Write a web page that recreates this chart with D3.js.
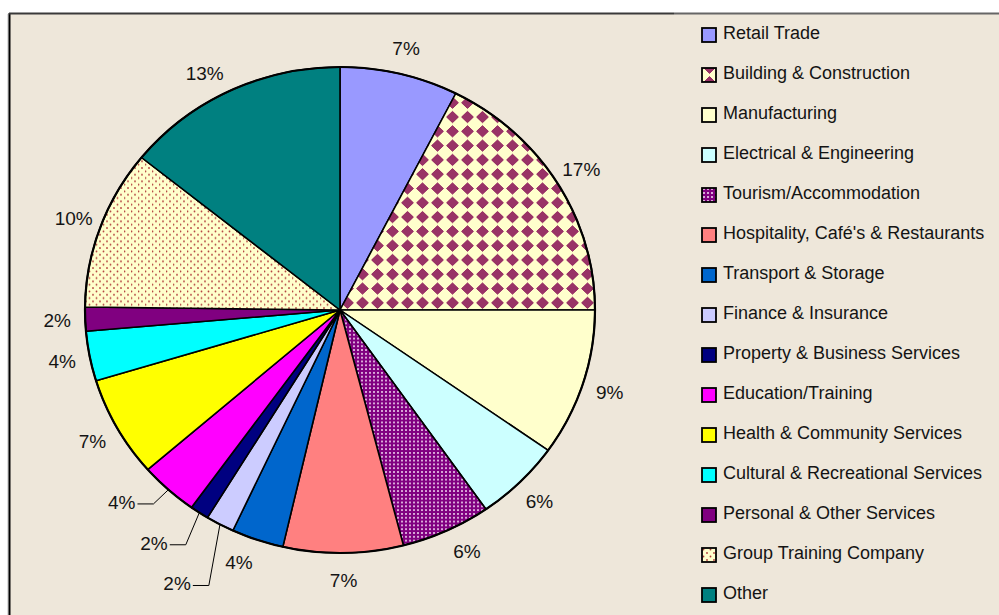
<!DOCTYPE html>
<html>
<head>
<meta charset="utf-8">
<script src="https://cdn.jsdelivr.net/npm/d3@7"></script>
<style>
body { margin: 0; background: #fff; }
text { font-family: Arial, "Liberation Sans", sans-serif; fill: #141414; }
</style>
</head>
<body>
<svg id="chart" width="999" height="615"></svg>
<script>
// données (parts en %)
const secteurs = ['Retail Trade', 'Building & Construction', 'Manufacturing', 'Electrical & Engineering',
    'Tourism/Accommodation', "Hospitality, Café's & Restaurants", 'Transport & Storage', 'Finance & Insurance',
    'Property & Business Services', 'Education/Training', 'Health & Community Services',
    'Cultural & Recreational Services', 'Personal & Other Services', 'Group Training Company', 'Other'];
const parts = [7.5, 17.5, 9.8, 5.5, 5.7, 7.6, 3.3, 1.8, 1.2, 3.7, 6.7, 3.3, 1.6, 10.6, 14.2];
const etiquettes = ['7%', '17%', '9%', '6%', '6%', '7%', '4%', '2%', '2%', '4%', '7%', '4%', '2%', '10%', '13%'];

const remplissages = ['#9999FF', 'url(#pDiamant)', '#FFFFCC', '#CCFFFF', 'url(#pTourisme)', '#FF8080', '#0066CC',
    '#CCCCFF', '#000080', '#FF00FF', '#FFFF00', '#00FFFF', '#800080', 'url(#pGroupe)', '#008080'];

// etiquettes deplacees (comme dans le classeur d'origine)
const decalages = {
    'Other': {da: -3},
    'Tourism/Accommodation': {da: -2},
    'Transport & Storage': {da: 2},
    'Finance & Insurance': {da: 1.5, r: 330, guide: true},
    'Property & Business Services': {da: 3.8, r: 307, guide: true},
    'Education/Training': {da: 5, r: 297, guide: true}
};

var svg = d3.select('#chart');
var fond = '#EEE7DA';
var cx = 340, cy = 310, rayon = 255, ky = 243 / 255;

/**
 * Motifs
 */
var defs = svg.append('defs');
var p1 = defs.append('pattern').attr('id', 'pDiamant').attr('patternUnits', 'userSpaceOnUse')
    .attr('width', 15).attr('height', 15);
p1.append('rect').attr('width', 15).attr('height', 15).attr('fill', '#FFFFCC');
p1.append('path').attr('d', 'M7.5,1.5 L13.5,7.5 L7.5,13.5 L1.5,7.5 Z').attr('fill', '#993366')
    .attr('stroke', '#993366').attr('stroke-width', 1).attr('stroke-linejoin', 'round');

var p2 = defs.append('pattern').attr('id', 'pTourisme').attr('patternUnits', 'userSpaceOnUse')
    .attr('width', 4).attr('height', 4);
p2.append('rect').attr('width', 4).attr('height', 4).attr('fill', '#800080');
p2.append('rect').attr('x', 1).attr('y', 1).attr('width', 2).attr('height', 2).attr('fill', '#D8A8D8');

var p3 = defs.append('pattern').attr('id', 'pGroupe').attr('patternUnits', 'userSpaceOnUse')
    .attr('width', 7).attr('height', 7);
p3.append('rect').attr('width', 7).attr('height', 7).attr('fill', '#FFFFCC');
p3.append('circle').attr('cx', 1.5).attr('cy', 1.5).attr('r', 0.9).attr('fill', '#B03A3A');
p3.append('circle').attr('cx', 5).attr('cy', 5).attr('r', 0.9).attr('fill', '#B03A3A');

/**
 * Cadre
 */
svg.append('rect').attr('x', 9).attr('y', 14).attr('width', 990).attr('height', 601).attr('fill', fond);
svg.append('line').attr('x1', 8).attr('x2', 8).attr('y1', 14).attr('y2', 615).attr('stroke', '#bbb').attr('stroke-width', 1);
svg.append('line').attr('x1', 9.5).attr('x2', 9.5).attr('y1', 13).attr('y2', 615).attr('stroke', '#000').attr('stroke-width', 2);
svg.append('line').attr('x1', 9).attr('x2', 674).attr('y1', 13.5).attr('y2', 13.5).attr('stroke', '#3a3a3a').attr('stroke-width', 2);
svg.append('line').attr('x1', 674).attr('x2', 999).attr('y1', 13.5).attr('y2', 13.5).attr('stroke', '#666').attr('stroke-width', 2);

/**
 * Camembert
 */
var pie = d3.pie().sort(null).value(d => d);
var arcs = pie(parts);
var arc = d3.arc().innerRadius(0).outerRadius(rayon);

var gPie = svg.append('g').attr('transform', `translate(${cx},${cy}) scale(1,${ky})`);
gPie.selectAll('path.part').data(arcs).enter().append('path')
    .attr('class', 'part')
    .attr('d', arc)
    .attr('fill', (d, i) => remplissages[i])
    .attr('stroke', '#000')
    .attr('stroke-width', 1.6)
    .attr('stroke-linejoin', 'round');
gPie.append('ellipse').attr('rx', rayon).attr('ry', rayon)
    .attr('fill', 'none').attr('stroke', '#000').attr('stroke-width', 2.2);

// position d'un point (angle en radians, depuis midi, sens horaire)
function point(a, r) {
    return [cx + r * Math.sin(a), cy - r * Math.cos(a) * ky];
}

var gLab = svg.append('g');
arcs.forEach(function(d, i) {
    var dec = decalages[secteurs[i]] || {};
    var milieu = (d.startAngle + d.endAngle) / 2;
    var a = milieu + (dec.da || 0) * Math.PI / 180;
    var p = point(a, dec.r || 283);
    var t = gLab.append('text')
        .attr('x', p[0]).attr('y', p[1])
        .attr('dy', '0.36em')
        .attr('text-anchor', 'middle')
        .style('font-size', '19px')
        .text(etiquettes[i]);
    if (dec.guide) {
        var droite = p[0] + t.node().getComputedTextLength() / 2 + 2;
        var bord = point(milieu, rayon);
        gLab.append('polyline')
            .attr('points', [[droite, p[1] + 2], [droite + 16, p[1] + 2], bord].map(q => q.join(',')).join(' '))
            .attr('fill', 'none').attr('stroke', '#000').attr('stroke-width', 1);
    }
});

/**
 * Legende
 */
var yLeg = d3.scaleBand().domain(secteurs).range([15, 615]);
var gLeg = svg.append('g').selectAll('g').data(secteurs).enter().append('g')
    .attr('transform', d => `translate(702,${yLeg(d) + yLeg.bandwidth() / 2})`);
gLeg.append('rect')
    .attr('x', 0).attr('y', -7).attr('width', 14).attr('height', 14)
    .attr('fill', (d, i) => remplissages[i])
    .attr('stroke', '#000').attr('stroke-width', 1.8);
gLeg.append('text')
    .attr('x', 21).attr('y', 4)
    .style('font-size', '18px')
    .text(d => d);
</script>
</body>
</html>
